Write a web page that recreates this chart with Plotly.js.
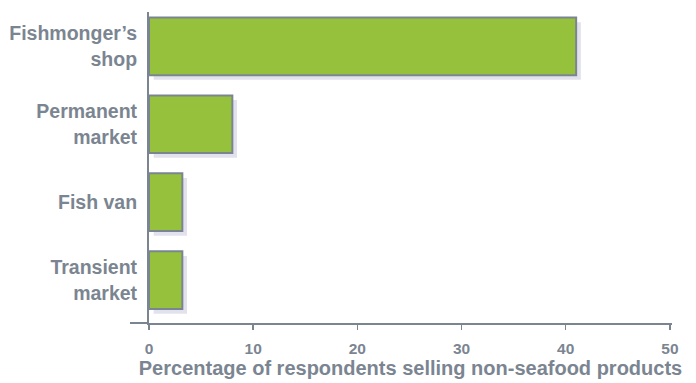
<!DOCTYPE html>
<html>
<head>
<meta charset="utf-8">
<script src="https://cdn.plot.ly/plotly-3.0.1.min.js"></script>
<style>html,body{margin:0;padding:0;background:#fff;}#chart{width:696px;height:383px;}</style>
</head>
<body>
<div id="chart"></div>
<script>
var categories = ["Fishmonger’s<br>shop", "Permanent<br>market", "Fish van", "Transient<br>market"];
var values = [41, 8, 3.2, 3.2];
var xTicks = [0, 10, 20, 30, 40, 50];

var gray = "#7b8591";
var font = "Liberation Sans, Arial, sans-serif";

var shadow = {
  type: "bar", orientation: "h", y: categories, x: values, base: 0.45,
  width: 0.74, offset: -0.31,
  marker: {color: "#e2e2ee", line: {width: 0}},
  hoverinfo: "skip", showlegend: false
};
var bars = {
  type: "bar", orientation: "h", y: categories, x: values,
  width: 0.74,
  marker: {color: "#95c13d", line: {color: gray, width: 2}},
  showlegend: false
};

var layout = {
  width: 696, height: 383,
  margin: {l: 149, r: 24, t: 12, b: 60},
  paper_bgcolor: "#fff", plot_bgcolor: "#fff",
  barmode: "overlay",
  font: {family: font, color: gray},
  xaxis: {
    range: [0, 50.2], tickvals: xTicks, ticktext: xTicks.map(String),
    showgrid: false, zeroline: false,
    showline: true, linecolor: gray, linewidth: 2,
    ticks: "outside", ticklen: 5, tickwidth: 1.5, tickcolor: gray,
    ticklabelstandoff: 5,
    tickfont: {family: font, size: 15.5, color: gray, weight: "bold"},
    title: {text: "<b>Percentage of respondents selling non-seafood products</b>", font: {family: font, size: 20, color: gray}, standoff: 4}
  },
  yaxis: {
    type: "category", categoryorder: "array", categoryarray: categories,
    range: [3.55, -0.44],
    showgrid: false, zeroline: false,
    showline: true, linecolor: gray, linewidth: 2,
    ticks: "", ticklabelstandoff: 6,
    tickfont: {family: font, size: 19.5, color: gray, weight: "bold"}
  },
  shapes: [{type: "line", xref: "paper", yref: "paper", x0: -19/523, x1: 0, y0: 0, y1: 0, line: {color: gray, width: 2}}]
};

Plotly.newPlot("chart", [shadow, bars], layout, {displayModeBar: false, staticPlot: true});
</script>
</body>
</html>
